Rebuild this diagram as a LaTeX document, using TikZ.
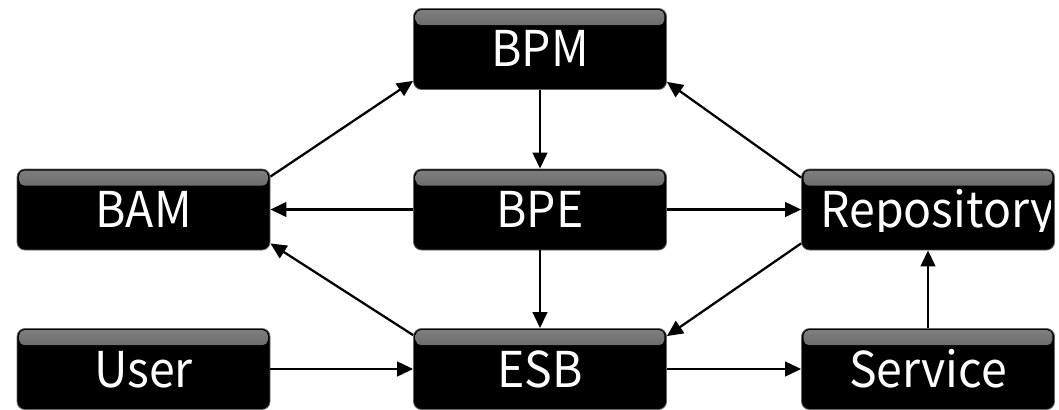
\documentclass[tikz,border=0pt]{standalone}
\usepackage{fontspec}
\setmainfont{Noto Sans CJK KR}
\newfontfamily\boxfont[FakeStretch=0.94]{Noto Sans CJK KR}
\usetikzlibrary{arrows.meta}

% Keep only #1 of the descenders of the text #2
\newsavebox\cutbox
\newlength\cutwd
\newlength\cutht
\newcommand\cutdepth[2]{%
  \sbox\cutbox{\color{white}#2}%
  \setlength\cutwd{\wd\cutbox}%
  \setlength\cutht{\ht\cutbox}%
  \tikz[baseline=0pt]{%
    \path[use as bounding box] (0pt,-#1) rectangle (\cutwd,\cutht);
    \clip (-4pt,-#1) rectangle (\cutwd+4pt,\cutht+4pt);
    \node[inner sep=0pt,anchor=base west,draw=none,fill=none] at (0pt,0pt) {\usebox\cutbox};}}

\tikzset{
  pbox/.style={
    rectangle, rounded corners=6pt, fill=black, draw=black!60, line width=0.6pt,
    minimum width=189.75pt, minimum height=60.75pt, inner sep=0pt,
    text=white, font=\boxfont\fontsize{37}{40}\selectfont,
    text height=27pt, text depth=0pt,
    path picture={
      \shade[top color=black!50, bottom color=black!85, rounded corners=4pt]
        ([xshift=1.6pt,yshift=-1.2pt]path picture bounding box.north west)
        rectangle
        ([xshift=-1.6pt,yshift=-12.5pt]path picture bounding box.north east);
    }},
  flow/.style={line width=1.7pt, -{Triangle[length=12pt,width=11pt]}}
}

\begin{document}
\begin{tikzpicture}[x=0.75pt,y=-0.75pt]
  \useasboundingbox (0,0) rectangle (1059,410);

  % boxes
  \node[pbox] (bpm)  at (540,49)    {BPM};
  \node[pbox] (bam)  at (143.5,209.5) {BAM};
  \node[pbox] (bpe)  at (540,209.5)   {BPE};
  \node[pbox] (repo) at (928,209.5)   {\cutdepth{3pt}{Repository}};
  \node[pbox] (user) at (143.5,369) {User};
  \node[pbox] (esb)  at (540,369)   {ESB};
  \node[pbox] (svc)  at (928,369)   {Service};

  % connectors
  \draw[flow] ([yshift=-6pt]bam.north east) -- ([yshift=6.75pt]bpm.south west);
  \draw[flow] ([yshift=-6.75pt]repo.north west) -- ([yshift=6pt]bpm.south east);
  \draw[flow] (bpm) -- (bpe);
  \draw[flow] (bpe) -- (bam);
  \draw[flow] (bpe) -- (repo);
  \draw[flow] (bpe) -- (esb);
  \draw[flow] ([yshift=-5.25pt]esb.north west) -- ([yshift=5.25pt]bam.south east);
  \draw[flow] ([yshift=5.25pt]repo.south west) -- ([yshift=-6pt]esb.north east);
  \draw[flow] (user) -- (esb);
  \draw[flow] (esb) -- (svc);
  \draw[flow] (svc) -- (repo);
\end{tikzpicture}
\end{document}
